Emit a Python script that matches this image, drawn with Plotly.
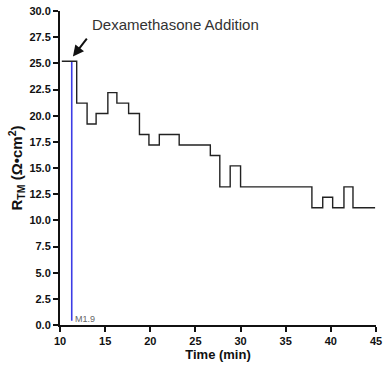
import plotly.graph_objects as go

# Data
times = [10.2, 11.85, 13.0, 14.0, 15.3, 16.3, 17.6, 18.8, 19.85, 21.0, 23.2,
         26.65, 27.7, 28.85, 30.0, 37.9, 39.1, 40.2, 41.45, 42.45, 44.9]
rtm = [25.2, 21.2, 19.2, 20.2, 22.2, 21.2, 20.2, 18.2, 17.2, 18.2, 17.2,
       16.2, 13.2, 15.2, 13.2, 11.2, 12.2, 11.2, 13.2, 11.2, 11.2]
marker_time = [11.3, 11.3]
marker_span = [0.4, 25.2]
marker_label = "M1.9"
x_ticks = [10, 15, 20, 25, 30, 35, 40, 45]
y_ticks = [0, 2.5, 5, 7.5, 10, 12.5, 15, 17.5, 20, 22.5, 25, 27.5, 30]

fig = go.Figure()
fig.add_trace(go.Scatter(x=marker_time, y=marker_span, mode="lines",
                         line=dict(color="#3c3ce6", width=1.6), hoverinfo="skip"))
fig.add_trace(go.Scatter(x=times, y=rtm, mode="lines", line_shape="hv",
                         line=dict(color="#222222", width=1.4)))

fig.add_annotation(x=11.43, y=25.65, ax=13.1, ay=27.5, axref="x", ayref="y",
                   xref="x", yref="y", text="", showarrow=True,
                   arrowhead=2, arrowsize=1.1, arrowwidth=2, arrowcolor="#111")
fig.add_annotation(x=13.3, y=28.7, xref="x", yref="y", text="Dexamethasone Addition",
                   showarrow=False, xanchor="left", yanchor="middle",
                   font=dict(family="Liberation Sans, Arial", size=15, color="#333"))
fig.add_annotation(x=11.4, y=0.55, xref="x", yref="y", text=marker_label,
                   showarrow=False, xanchor="left", yanchor="middle",
                   font=dict(family="Liberation Sans, Arial", size=9, color="#666"))

axis_font = dict(family="Liberation Sans, Arial", size=11, color="#111")
fig.update_layout(
    width=387, height=366, showlegend=False,
    margin=dict(l=60, r=10, t=5, b=41),
    plot_bgcolor="white", paper_bgcolor="white",
    xaxis=dict(range=[10, 45], tickvals=x_ticks, ticktext=[f"<b>{v}</b>" for v in x_ticks],
               showgrid=False, zeroline=False, showline=True, linecolor="#111", linewidth=2,
               ticks="outside", ticklen=5, tickwidth=2, tickcolor="#111", tickfont=axis_font,
               ticklabeloverflow="allow",
               title=dict(text="<b>Time (min)</b>", standoff=4,
                          font=dict(family="Liberation Sans, Arial", size=13, color="#111"))),
    yaxis=dict(range=[0, 30], tickvals=y_ticks, ticktext=[f"<b>{v:.1f}</b>" for v in y_ticks],
               showgrid=False, zeroline=False, showline=True, linecolor="#111", linewidth=2,
               ticks="outside", ticklen=5, tickwidth=2, tickcolor="#111", tickfont=axis_font,
               ticklabeloverflow="allow",
               title=dict(text="<b>R<sub>TM</sub> (Ω•cm<sup>2</sup>)</b>", standoff=3,
                          font=dict(family="Liberation Sans, Arial", size=15, color="#111"))),
)
fig.write_html("out.html", config={"displayModeBar": False},
               post_script="document.body.style.margin='0';")
